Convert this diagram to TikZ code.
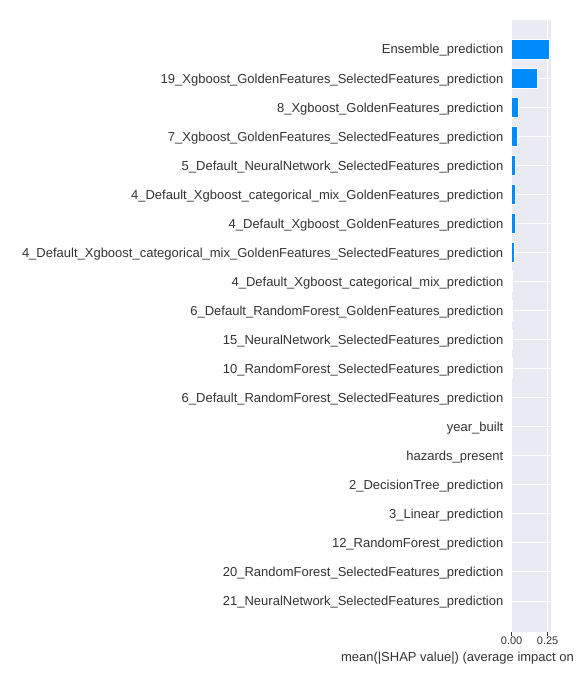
\documentclass[tikz,border=0pt]{standalone}
\usepackage{fontspec}
\setmainfont{Liberation Sans}
\definecolor{axbg}{HTML}{EAEAF2}
\definecolor{shapblue}{HTML}{008BFB}
\definecolor{txt}{HTML}{333333}
\begin{document}
\begin{tikzpicture}[x=1pt,y=-1pt,
  featlabel/.style={anchor=base east,inner sep=0pt,text=txt,font=\fontsize{13}{15}\selectfont},
  ticklabel/.style={anchor=base,inner sep=0pt,text=txt,font=\fontsize{11}{13}\selectfont},
  axlabel/.style={anchor=base west,inner sep=0pt,text=txt,font=\fontsize{13}{15}\selectfont},
  gridline/.style={draw=white,line width=0.9pt},
  barbox/.style={fill=shapblue,draw=white,line width=0.8pt},
  tickmark/.style={draw=txt,line width=0.7pt}]
\useasboundingbox (0,0) rectangle (576,684);
\fill[white] (0,0) rectangle (576,684);
% axes background
\fill[axbg] (511.3,20) rectangle (550.7,631.7);
% vertical grid
\draw[gridline] (547.3,20) -- (547.3,631.7);
\draw[gridline] (511.3,20) -- (511.3,631.7);
% rows
\foreach \i/\name/\w in {
 0/Ensemble\_prediction/37.7,
 1/19\_Xgboost\_GoldenFeatures\_SelectedFeatures\_prediction/26,
 2/8\_Xgboost\_GoldenFeatures\_prediction/7,
 3/7\_Xgboost\_GoldenFeatures\_SelectedFeatures\_prediction/6,
 4/5\_Default\_NeuralNetwork\_SelectedFeatures\_prediction/4,
 5/4\_Default\_Xgboost\_categorical\_mix\_GoldenFeatures\_prediction/4,
 6/4\_Default\_Xgboost\_GoldenFeatures\_prediction/4,
 7/4\_Default\_Xgboost\_categorical\_mix\_GoldenFeatures\_SelectedFeatures\_prediction/2.8,
 8/4\_Default\_Xgboost\_categorical\_mix\_prediction/1.2,
 9/6\_Default\_RandomForest\_GoldenFeatures\_prediction/0.8,
 10/15\_NeuralNetwork\_SelectedFeatures\_prediction/0.7,
 11/10\_RandomForest\_SelectedFeatures\_prediction/0.6,
 12/6\_Default\_RandomForest\_SelectedFeatures\_prediction/0.5,
 13/year\_built/0.4,
 14/hazards\_present/0.4,
 15/2\_DecisionTree\_prediction/0.4,
 16/3\_Linear\_prediction/0.4,
 17/12\_RandomForest\_prediction/0.4,
 18/20\_RandomForest\_SelectedFeatures\_prediction/0.4,
 19/21\_NeuralNetwork\_SelectedFeatures\_prediction/0.4}{
  \pgfmathsetmacro{\yc}{49+29.05*\i}
  \draw[gridline] (511.3,\yc) -- (550.7,\yc);
  \node[featlabel] (lab\i) at (503.5,\yc+5) {\name};
  \path[barbox] (511.3,\yc-10) rectangle ++(\w,20);
}
% ticks
\draw[tickmark] (511.3,631.7) -- (511.3,635.5);
\draw[tickmark] (547.3,631.7) -- (547.3,635.5);
\node[ticklabel] (t0) at (511.6,644.5) {0.00};
\node[ticklabel] (t1) at (547.6,644.5) {0.25};
\node[axlabel] (xl) at (340.8,661.5) {mean(|SHAP value|) (average impact on};
\end{tikzpicture}
\end{document}
